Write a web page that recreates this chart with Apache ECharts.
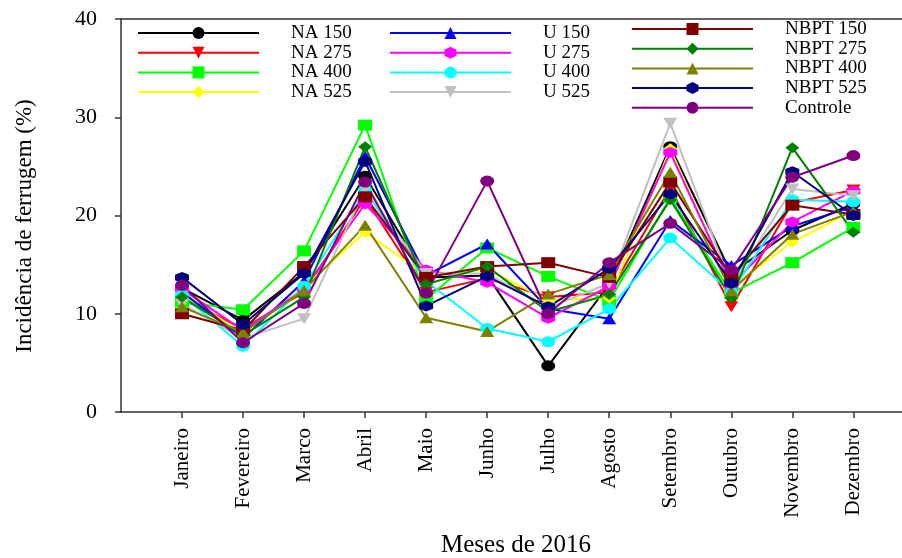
<!DOCTYPE html>
<html>
<head>
    <meta charset="utf-8">
    <title>Incidência de ferrugem</title>
    <script src="https://cdn.jsdelivr.net/npm/echarts@6/dist/echarts.min.js"></script>
</head>
<style>
    body {
        margin: 0;
        background: #fff;
    }

    #chart {
        width: 902px;
        height: 558px;
    }
</style>
<body>
<div id="chart"></div>
<script type="text/javascript">

    var months = ['Janeiro', 'Fevereiro', 'Marco', 'Abril', 'Maio', 'Junho', 'Julho', 'Agosto', 'Setembro', 'Outubro', 'Novembro', 'Dezembro'];
    var yTicks = [0, 10, 20, 30, 40];

    var na150 = [12.6, 9.35, 14.2, 24.0, 13.7, 13.9, 4.7, 13.0, 27.0, 14.1, 18.5, 21.2];
    var na275 = [11.5, 8.5, 12.2, 21.8, 12.2, 13.6, 11.7, 12.2, 22.8, 10.7, 21.3, 22.6];
    var na400 = [11.2, 10.4, 16.4, 29.2, 11.5, 16.7, 13.8, 11.3, 21.8, 12.1, 15.2, 18.8];
    var na525 = [12.0, 8.0, 12.8, 18.3, 13.9, 14.5, 11.4, 11.6, 26.8, 12.7, 17.3, 20.5];
    var u150 = [12.2, 7.5, 13.3, 26.0, 13.9, 17.1, 10.5, 9.5, 19.5, 14.9, 18.9, 20.9];
    var u275 = [12.5, 8.3, 12.5, 21.2, 14.45, 13.2, 9.55, 12.8, 26.4, 12.9, 19.35, 22.5];
    var u400 = [11.9, 6.7, 12.8, 22.6, 13.3, 8.5, 7.15, 10.5, 17.7, 12.2, 21.6, 21.4];
    var u525 = [11.0, 7.5, 9.5, 22.7, 14.1, 14.1, 10.6, 13.1, 29.4, 12.9, 22.7, 22.0];
    var nbpt150 = [10.0, 8.3, 14.8, 21.9, 13.7, 14.8, 15.2, 13.7, 23.4, 13.8, 21.05, 20.1];
    var nbpt275 = [11.7, 7.8, 11.7, 27.0, 13.0, 14.8, 10.2, 11.95, 21.6, 11.6, 26.9, 18.3];
    var nbpt400 = [10.7, 8.1, 12.4, 19.0, 9.6, 8.2, 12.0, 14.0, 24.4, 12.35, 18.1, 20.4];
    var nbpt525 = [13.7, 8.9, 14.1, 25.5, 10.8, 13.8, 10.7, 14.6, 22.2, 13.1, 24.45, 20.0];
    var controle = [12.9, 7.05, 11.05, 23.4, 12.1, 23.5, 10.0, 15.2, 19.2, 14.45, 23.9, 26.1];

    var downTri = 'path://M0,0 L100,0 L50,100 Z';
    var hexagon = 'path://M50,0 L100,25 L100,75 L50,100 L0,75 L0,25 Z';

    var seriesDefs = [
        {name: 'NA 150', data: na150, color: '#000000', symbol: 'circle'},
        {name: 'NA 275', data: na275, color: '#ff0000', symbol: downTri},
        {name: 'NA 400', data: na400, color: '#00ff00', symbol: 'rect'},
        {name: 'NA 525', data: na525, color: '#ffff00', symbol: 'diamond'},
        {name: 'U 150', data: u150, color: '#0000ff', symbol: 'triangle'},
        {name: 'U 275', data: u275, color: '#ff00ff', symbol: hexagon},
        {name: 'U 400', data: u400, color: '#00ffff', symbol: 'circle'},
        {name: 'U 525', data: u525, color: '#c0c0c0', symbol: downTri},
        {name: 'NBPT 150', data: nbpt150, color: '#800000', symbol: 'rect'},
        {name: 'NBPT 275', data: nbpt275, color: '#008000', symbol: 'diamond'},
        {name: 'NBPT 400', data: nbpt400, color: '#808000', symbol: 'triangle'},
        {name: 'NBPT 525', data: nbpt525, color: '#000080', symbol: hexagon},
        {name: 'Controle', data: controle, color: '#800080', symbol: 'circle'}
    ];

    var font = '"Liberation Serif", "Times New Roman", serif';
    var axisColor = '#333';

    var series = seriesDefs.map(function (s) {
        return {
            name: s.name,
            type: 'line',
            xAxisIndex: 0,
            data: s.data.map(function (v, i) {
                return [i + 1, v];
            }),
            symbol: s.symbol,
            symbolSize: [14, 11],
            color: s.color,
            lineStyle: {width: 2, color: s.color},
            itemStyle: {color: s.color},
            animation: false
        };
    });

    function makeLegend(names, left, top) {
        return {
            data: names,
            orient: 'vertical',
            left: left,
            top: top,
            padding: 0,
            itemWidth: 121,
            itemHeight: 15,
            itemGap: 0.7,
            inactiveColor: '#ccc',
            textStyle: {
                fontFamily: font,
                fontSize: 19,
                color: '#000',
                padding: [0, 0, 0, 27]
            }
        };
    }

    var xAxisBase = {
        type: 'value',
        min: 0,
        max: 781 / 61.03,
        splitLine: {show: false}
    };

    var chart = echarts.init(document.getElementById('chart'));
    chart.setOption({
        backgroundColor: '#fff',
        animation: false,
        legend: [
            makeLegend(['NA 150', 'NA 275', 'NA 400', 'NA 525'], 137, 23.5),
            makeLegend(['U 150', 'U 275', 'U 400', 'U 525'], 389, 23.5),
            makeLegend(['NBPT 150', 'NBPT 275', 'NBPT 400', 'NBPT 525', 'Controle'], 631, 19.5)
        ],
        grid: {
            left: 121,
            right: 0,
            top: 19,
            bottom: 146,
            containLabel: false
        },
        xAxis: [
            Object.assign({}, xAxisBase, {
                position: 'bottom',
                axisLine: {show: true, lineStyle: {color: axisColor, width: 1.5}},
                axisTick: {
                    show: true,
                    inside: false,
                    length: 6,
                    customValues: months.map(function (m, i) { return i + 1; }),
                    lineStyle: {color: axisColor, width: 1.5}
                },
                axisLabel: {
                    rotate: 90,
                    margin: 16,
                    fontFamily: font,
                    fontSize: 21,
                    color: '#000',
                    customValues: months.map(function (m, i) { return i + 1; }),
                    formatter: function (v) {
                        return months[Math.round(v) - 1] || '';
                    }
                }
            }),
            Object.assign({}, xAxisBase, {
                position: 'top',
                axisLine: {show: true, lineStyle: {color: axisColor, width: 1.5}},
                axisTick: {show: false},
                axisLabel: {show: false}
            })
        ],
        yAxis: {
            type: 'value',
            min: 0,
            max: 40,
            interval: 10,
            splitLine: {show: false},
            axisLine: {show: true, lineStyle: {color: axisColor, width: 1.5}},
            axisTick: {show: true, inside: false, length: 6, lineStyle: {color: axisColor, width: 1.5}},
            axisLabel: {
                margin: 24,
                fontFamily: font,
                fontSize: 22,
                color: '#000',
                customValues: yTicks
            }
        },
        graphic: [
            {
                type: 'text',
                x: 25,
                y: 226,
                rotation: Math.PI / 2,
                style: {
                    text: 'Incidência de ferrugem (%)',
                    fontFamily: font,
                    fontSize: 23,
                    fill: '#000',
                    align: 'center',
                    verticalAlign: 'middle'
                }
            },
            {
                type: 'text',
                x: 516,
                y: 545,
                style: {
                    text: 'Meses de 2016',
                    fontFamily: font,
                    fontSize: 25,
                    fill: '#000',
                    align: 'center',
                    verticalAlign: 'middle'
                }
            }
        ],
        series: series
    });
</script>
</body>
</html>
